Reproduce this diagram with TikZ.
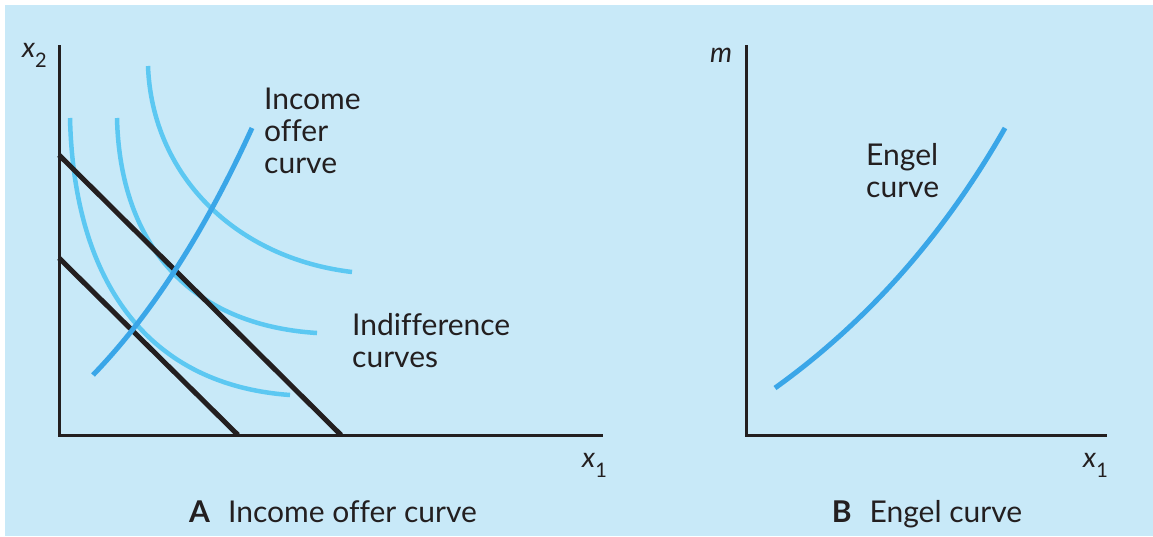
\documentclass[tikz,border=0pt]{standalone}
\usepackage{fontspec}
\setmainfont{Lato}[Ligatures=NoCommon]
\usetikzlibrary{positioning, calc}

\definecolor{panelbg}{HTML}{C8E9F8}
\definecolor{indiff}{HTML}{5CC8F2}
\definecolor{offer}{HTML}{3AA6E8}
\definecolor{axisink}{HTML}{231F20}

\begin{document}
\begin{tikzpicture}[
  x=1pt, y=-1pt,
  axis/.style   = {draw=axisink, line width=3pt, line join=miter},
  budget/.style = {draw=axisink, line width=5pt},
  icurve/.style = {draw=indiff, line width=4.5pt},
  ocurve/.style = {draw=offer, line width=5pt},
  lbl/.style    = {font=\fontsize{30}{32}\selectfont, text=axisink, inner sep=0pt, align=left},
  axlbl/.style  = {font=\fontsize{28}{28}\selectfont, text=axisink, inner sep=0pt},
]
  \useasboundingbox (0,0) rectangle (1153,536);
  \fill[panelbg] (5,5) rectangle (1153,536);

  % panel A: income offer curve
  \coordinate (oA) at (59,435);
  \coordinate (yA) at (59,45);
  \coordinate (xA) at (603,435);

  \draw[icurve] (70,118)  .. controls (74,285)  and (150,385) .. (290,395);
  \draw[icurve] (117,118) .. controls (120,245) and (190,325) .. (317,333);
  \draw[icurve] (148,66)  .. controls (152,175) and (235,258) .. (352,272);

  \draw[budget] (59,258) -- (238,435);
  \draw[budget] (59,155) -- (341,435);

  \draw[ocurve] (93,375) .. controls (152,314) and (205,231) .. (252,128);

  \draw[axis] (yA) -- (oA) -- (xA);

  \node[axlbl, anchor=base west] (x2A) at (22,57) {\textit{x}\raisebox{-10pt}{\fontsize{20}{20}\selectfont 2}};
  \node[axlbl, anchor=base west] (x1A) at (582,467) {\textit{x}\raisebox{-10pt}{\fontsize{20}{20}\selectfont 1}};

  \node[lbl, anchor=north west] (ioc) at (264,88) {Income\\offer\\curve};
  \node[lbl, anchor=north west] (ind) at (352,313) {Indifference\\curves};

  \node[lbl, anchor=base] (capA) at (333,522) {\textbf{A}\hspace{0.6em}Income offer curve};

  % panel B: Engel curve
  \coordinate (oB) at (746,435);
  \coordinate (yB) at (746,45);
  \coordinate (xB) at (1107,435);

  \draw[ocurve] (775,388) .. controls (867,322) and (944,235) .. (1005,128);

  \draw[axis] (yB) -- (oB) -- (xB);

  \node[axlbl, anchor=base west] (mB)  at (710,62)   {\textit{m}};
  \node[axlbl, anchor=base west] (x1B) at (1083,467) {\textit{x}\raisebox{-10pt}{\fontsize{20}{20}\selectfont 1}};

  \node[lbl, anchor=north west] (eng) at (866,143) {Engel\\curve};

  \node[lbl, anchor=base] (capB) at (927,522) {\textbf{B}\hspace{0.6em}Engel curve};
\end{tikzpicture}
\end{document}
